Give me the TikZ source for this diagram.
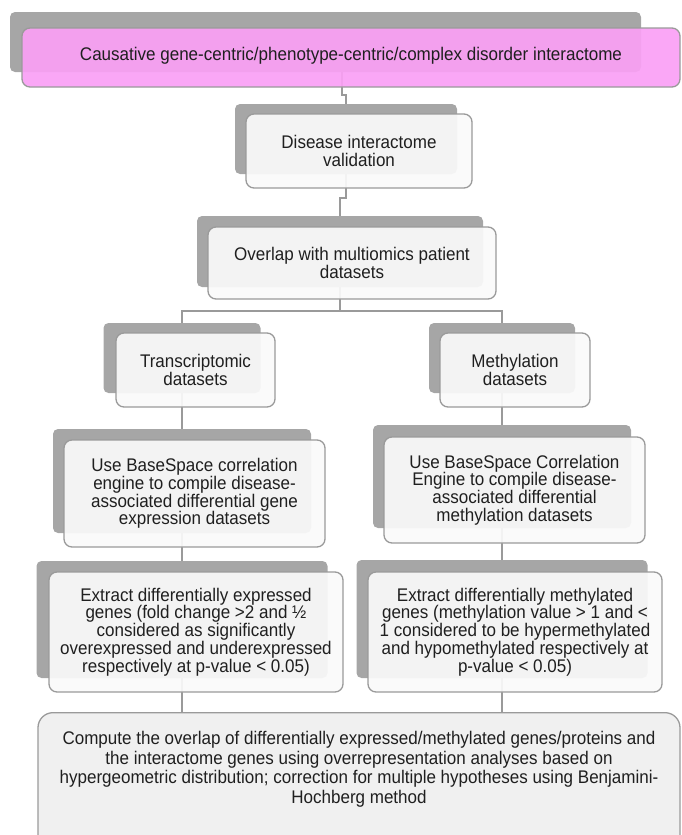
\documentclass[tikz,border=0pt]{standalone}
\usepackage{fontspec}
\setmainfont{Liberation Sans}[FakeStretch=0.93]
\usetikzlibrary{calc}

\definecolor{shade}{HTML}{A6A6A6}
\definecolor{rim}{HTML}{9A9A9A}
\definecolor{orchid}{RGB}{250,160,245}
\definecolor{paper}{HTML}{FAFAFA}
\definecolor{summary}{HTML}{F0F0F0}

\begin{document}
\begin{tikzpicture}[
    x=1pt, y=-1pt,
    font=\fontsize{18.3}{17.8}\selectfont,
    back/.style={rectangle, rounded corners=5pt, fill=shade, inner sep=0pt},
    box/.style={rectangle, rounded corners=8pt, draw=rim, line width=1.3pt, fill=paper, fill opacity=0.92, text opacity=1, text=black!88, align=center, inner sep=0pt},
    link/.style={draw=rim, line width=1.5pt}
]
\useasboundingbox (0,0) rectangle (681,835);
\clip (0,0) rectangle (681,835);

% Grey cards behind each step
\node[back, minimum width=631pt, minimum height=60pt] (disorderbg) at (325.5,42) {};
\node[back, minimum width=222pt, minimum height=70pt] (validationbg) at (346,139) {};
\node[back, minimum width=286pt, minimum height=71pt] (overlapbg) at (340,251.5) {};
\node[back, minimum width=157pt, minimum height=70pt] (transbg) at (182,358) {};
\node[back, minimum width=146pt, minimum height=70pt] (methbg) at (502,358) {};
\node[back, minimum width=258pt, minimum height=104pt] (bsexprbg) at (182,481) {};
\node[back, minimum width=258pt, minimum height=103pt] (bsmethbg) at (502,476.5) {};
\node[back, minimum width=291pt, minimum height=117pt] (degexprbg) at (182,619.5) {};
\node[back, minimum width=291pt, minimum height=118pt] (degmethbg) at (502,619) {};
\coordinate (oratop) at (359,712);

% Links (drawn first so the cards cover them)
\draw[link] ($(validationbg.north |- disorderbg.south)+(-4,0)$) |- ($(validationbg.north)+(0,-9)$) -- (validationbg.north);
\draw[link] (validationbg.south) |- ($(overlapbg.north)+(0,-18)$) -- (overlapbg.north);
\coordinate (fork) at ($(overlapbg.south)+(0,24)$);
\draw[link] (overlapbg.south) -- (fork);
\draw[link] (transbg.north) |- (fork) -| (methbg.north);
\draw[link] (transbg.south) -- (bsexprbg.north);
\draw[link] (methbg.south) -- (bsmethbg.north);
\draw[link] (bsexprbg.south) -- (degexprbg.north);
\draw[link] (bsmethbg.south) -- (degmethbg.north);
\draw[link] (degexprbg.south) -- (degexprbg.south |- oratop);
\draw[link] (degmethbg.south) -- (degmethbg.south |- oratop);

% Interactome
\node[box, fill=orchid, minimum width=658pt, minimum height=59pt, text depth=8pt] (disorder) at (351,57.5) {Causative gene-centric/phenotype-centric/complex disorder interactome};

% Validation and overlap
\node[box, minimum width=226pt, minimum height=74pt] (validation) at (359,151) {Disease interactome\\validation};
\node[box, minimum width=288pt, minimum height=72pt] (overlap) at (352,263) {Overlap with multiomics patient\\datasets};

% Two branches
\node[box, minimum width=159pt, minimum height=74pt] (trans) at (195.5,370) {Transcriptomic\\datasets};
\node[box, minimum width=150pt, minimum height=74pt] (meth) at (515,370) {Methylation\\datasets};

\node[box, minimum width=261pt, minimum height=107pt] (bsexpr) at (194.5,493.5) {Use BaseSpace correlation\\engine to compile disease-\\associated differential gene\\expression datasets};
\node[box, minimum width=261pt, minimum height=106pt] (bsmeth) at (514.5,490) {Use BaseSpace Correlation\\Engine to compile disease-\\associated differential\\methylation datasets};

\node[box, minimum width=294pt, minimum height=120pt] (degexpr) at (196,632) {Extract differentially expressed\\genes (fold change >2 and ½\\considered as significantly\\overexpressed and underexpressed\\respectively at p-value < 0.05)};
\node[box, minimum width=294pt, minimum height=120pt] (degmeth) at (515,632) {Extract differentially methylated\\genes (methylation value > 1 and <\\1 considered to be hypermethylated\\and hypomethylated respectively at\\p-value < 0.05)};

% Overrepresentation analysis
\node[box, fill=summary, fill opacity=1, rounded corners=15pt, anchor=north, inner xsep=6pt, inner ysep=19pt] (ora) at (oratop) {\parbox[t][130pt][t]{630pt}{\centering\fontsize{18.3}{19.5}\selectfont
Compute the overlap of differentially expressed/methylated genes/proteins and\\
the interactome genes using overrepresentation analyses based on\\
hypergeometric distribution; correction for multiple hypotheses using Benjamini-\\
Hochberg method}};

\end{tikzpicture}
\end{document}
